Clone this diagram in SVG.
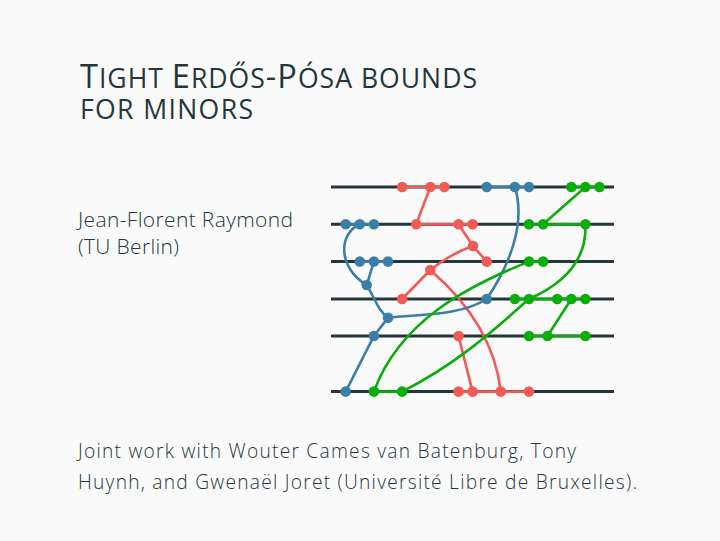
<svg xmlns="http://www.w3.org/2000/svg" width="720" height="541" viewBox="0 0 720 541">
<style>
.bg{fill:#fafafa}
.title{font-family:"Open Sans","Noto Sans",sans-serif;fill:#23373b;font-weight:500}
.body{font-family:"Open Sans","Noto Sans",sans-serif;fill:#23373b;font-weight:300}
.rail{stroke:#23373b;stroke-width:3;fill:none}
.e{fill:none;stroke-width:2.6;stroke-linecap:round}
.r{stroke:#f25a55}.b{stroke:#3a7fa8}.g{stroke:#0aad0a}
.rd{fill:#f25a55}.bd{fill:#3a7fa8}.gd{fill:#0aad0a}
</style>
<rect class="bg" x="0" y="0" width="720" height="541"/>
<g id="title">
<text class="title" x="80" y="87.5" textLength="397" lengthAdjust="spacing"><tspan font-size="32.6">T</tspan><tspan font-size="26.6">IGHT </tspan><tspan font-size="32.6">E</tspan><tspan font-size="26.6">RDŐS</tspan><tspan font-size="32.6">-P</tspan><tspan font-size="26.6">ÓSA BOUNDS</tspan></text>
<text class="title" x="80" y="118.5" font-size="26.6" textLength="173" lengthAdjust="spacing">FOR MINORS</text>
</g>
<g id="author">
<text class="body" x="78" y="226.5" font-size="21" textLength="215" lengthAdjust="spacing">Jean-Florent Raymond</text>
<text class="body" x="78" y="254" font-size="21" textLength="101" lengthAdjust="spacing">(TU Berlin)</text>
</g>
<g id="footer">
<text class="body" x="78" y="458.3" font-size="19.2" textLength="498" lengthAdjust="spacing">Joint work with Wouter Cames van Batenburg, Tony</text>
<text class="body" x="78" y="488.8" font-size="19.2" textLength="559" lengthAdjust="spacing">Huynh, and Gwenaël Joret (Université Libre de Bruxelles).</text>
</g>
<g id="rails">
<line class="rail" x1="331" y1="187" x2="614" y2="187"/>
<line class="rail" x1="331" y1="224.3" x2="614" y2="224.3"/>
<line class="rail" x1="331" y1="261.6" x2="614" y2="261.6"/>
<line class="rail" x1="331" y1="299" x2="614" y2="299"/>
<line class="rail" x1="331" y1="336" x2="614" y2="336"/>
<line class="rail" x1="331" y1="391.6" x2="614" y2="391.6"/>
</g>
<g id="connectors">
<!-- red -->
<path class="e r" d="M402.1,187 H444.4"/>
<path class="e r" d="M430.3,187 L416.2,224.3"/>
<path class="e r" d="M416.2,224.3 H472.6"/>
<path class="e r" d="M458.5,224.3 L473,246 L486.7,261.6"/>
<path class="e r" d="M473,246 Q452,253 430.3,270"/>
<path class="e r" d="M430.3,270 L402.1,299"/>
<path class="e r" d="M430.3,270 C465,300 495,340 500.8,391.6"/>
<path class="e r" d="M458.5,336 L472.6,391.6"/>
<path class="e r" d="M458.5,391.6 H529"/>
<!-- blue -->
<path class="e b" d="M486.7,187 H529"/>
<path class="e b" d="M514.9,187 C525,220 513,260 486.7,299"/>
<path class="e b" d="M345.7,224.3 H373.9"/>
<path class="e b" d="M359.8,224.3 C338,234 338,268 366.7,285 C375,299 379,312 388,317.7"/>
<path class="e b" d="M359.8,261.6 H388"/>
<path class="e b" d="M373.9,261.6 L366.7,285"/>
<path class="e b" d="M388,317.7 C420,314 460,316 486.7,299"/>
<path class="e b" d="M388,317.7 L373.9,336 L345.7,391.6"/>
<!-- green -->
<path class="e g" d="M571.3,187 H599.5"/>
<path class="e g" d="M585.4,187 L543.1,224.3"/>
<path class="e g" d="M529,224.3 H585.4"/>
<path class="e g" d="M585.4,224.3 C587,262 561,285 529,299 C510,315 465,360 402.1,391.6"/>
<path class="e g" d="M529,261.6 H543.1"/>
<path class="e g" d="M529,261.6 C470,285 400,320 373.9,391.6"/>
<path class="e g" d="M514.9,299 H585.4"/>
<path class="e g" d="M571.3,299 L547.5,336"/>
<path class="e g" d="M529,336 H585.4"/>
<path class="e g" d="M373.9,391.6 H402.1"/>
</g>
<g id="r1-red1"><circle class="rd" cx="402.1" cy="187" r="5.3"/></g>
<g id="r1-red2"><circle class="rd" cx="430.3" cy="187" r="5.3"/></g>
<g id="r1-red3"><circle class="rd" cx="444.4" cy="187" r="5.3"/></g>
<g id="r1-blue1"><circle class="bd" cx="486.7" cy="187" r="5.3"/></g>
<g id="r1-blue2"><circle class="bd" cx="514.9" cy="187" r="5.3"/></g>
<g id="r1-blue3"><circle class="bd" cx="529" cy="187" r="5.3"/></g>
<g id="r1-green1"><circle class="gd" cx="571.3" cy="187" r="5.3"/></g>
<g id="r1-green2"><circle class="gd" cx="585.4" cy="187" r="5.3"/></g>
<g id="r1-green3"><circle class="gd" cx="599.5" cy="187" r="5.3"/></g>
<g id="r2-blue1"><circle class="bd" cx="345.7" cy="224.3" r="5.3"/></g>
<g id="r2-blue2"><circle class="bd" cx="359.8" cy="224.3" r="5.3"/></g>
<g id="r2-blue3"><circle class="bd" cx="373.9" cy="224.3" r="5.3"/></g>
<g id="r2-red1"><circle class="rd" cx="416.2" cy="224.3" r="5.3"/></g>
<g id="r2-red2"><circle class="rd" cx="458.5" cy="224.3" r="5.3"/></g>
<g id="r2-red3"><circle class="rd" cx="472.6" cy="224.3" r="5.3"/></g>
<g id="r2-green1"><circle class="gd" cx="529" cy="224.3" r="5.3"/></g>
<g id="r2-green2"><circle class="gd" cx="543.1" cy="224.3" r="5.3"/></g>
<g id="r2-green3"><circle class="gd" cx="585.4" cy="224.3" r="5.3"/></g>
<g id="m-red1"><circle class="rd" cx="473" cy="246" r="5.3"/></g>
<g id="r3-blue1"><circle class="bd" cx="359.8" cy="261.6" r="5.3"/></g>
<g id="r3-blue2"><circle class="bd" cx="373.9" cy="261.6" r="5.3"/></g>
<g id="r3-blue3"><circle class="bd" cx="388" cy="261.6" r="5.3"/></g>
<g id="r3-red1"><circle class="rd" cx="486.7" cy="261.6" r="5.3"/></g>
<g id="r3-green1"><circle class="gd" cx="529" cy="261.6" r="5.3"/></g>
<g id="r3-green2"><circle class="gd" cx="543.1" cy="261.6" r="5.3"/></g>
<g id="m-red2"><circle class="rd" cx="430.3" cy="270" r="5.3"/></g>
<g id="m-blue1"><circle class="bd" cx="366.7" cy="285" r="5.3"/></g>
<g id="r4-red1"><circle class="rd" cx="402.1" cy="299" r="5.3"/></g>
<g id="r4-blue1"><circle class="bd" cx="486.7" cy="299" r="5.3"/></g>
<g id="r4-green1"><circle class="gd" cx="514.9" cy="299" r="5.3"/></g>
<g id="r4-green2"><circle class="gd" cx="529" cy="299" r="5.3"/></g>
<g id="r4-green3"><circle class="gd" cx="557.2" cy="299" r="5.3"/></g>
<g id="r4-green4"><circle class="gd" cx="571.3" cy="299" r="5.3"/></g>
<g id="r4-green5"><circle class="gd" cx="585.4" cy="299" r="5.3"/></g>
<g id="m-blue2"><circle class="bd" cx="388" cy="317.7" r="5.3"/></g>
<g id="r5-blue1"><circle class="bd" cx="373.9" cy="336" r="5.3"/></g>
<g id="r5-red1"><circle class="rd" cx="458.5" cy="336" r="5.3"/></g>
<g id="r5-green1"><circle class="gd" cx="529" cy="336" r="5.3"/></g>
<g id="r5-green2"><circle class="gd" cx="547.5" cy="336" r="5.3"/></g>
<g id="r5-green3"><circle class="gd" cx="585.4" cy="336" r="5.3"/></g>
<g id="r6-blue1"><circle class="bd" cx="345.7" cy="391.6" r="5.3"/></g>
<g id="r6-green1"><circle class="gd" cx="373.9" cy="391.6" r="5.3"/></g>
<g id="r6-green2"><circle class="gd" cx="402.1" cy="391.6" r="5.3"/></g>
<g id="r6-red1"><circle class="rd" cx="458.5" cy="391.6" r="5.3"/></g>
<g id="r6-red2"><circle class="rd" cx="472.6" cy="391.6" r="5.3"/></g>
<g id="r6-red3"><circle class="rd" cx="500.8" cy="391.6" r="5.3"/></g>
<g id="r6-red4"><circle class="rd" cx="529" cy="391.6" r="5.3"/></g>
</svg>
